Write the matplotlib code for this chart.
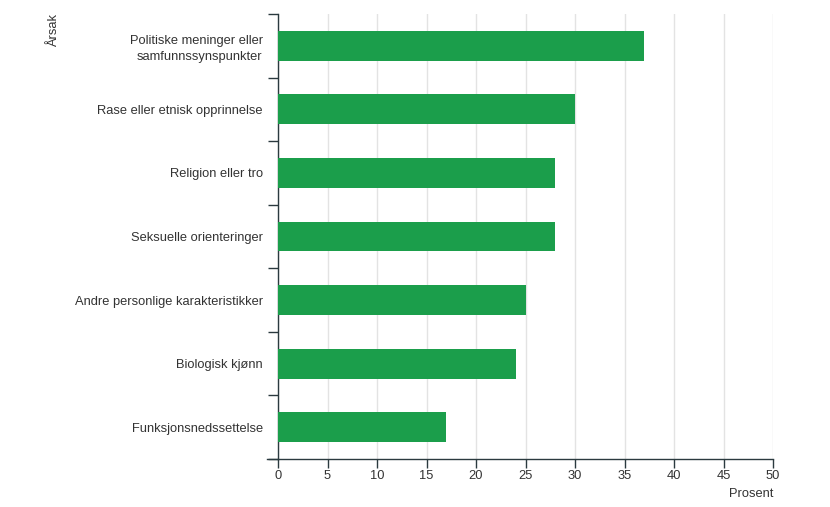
import matplotlib
matplotlib.use("Agg")
import matplotlib.pyplot as plt
from matplotlib.lines import Line2D

categories = [
    "Politiske meninger eller\nsamfunnssynspunkter",
    "Rase eller etnisk opprinnelse",
    "Religion eller tro",
    "Seksuelle orienteringer",
    "Andre personlige karakteristikker",
    "Biologisk kjønn",
    "Funksjonsnedssettelse",
]
values = [37, 30, 28, 28, 25, 24, 17]
x_ticks = [0, 5, 10, 15, 20, 25, 30, 35, 40, 45, 50]

plt.rcParams['font.family'] = ['Liberation Sans', 'DejaVu Sans']

W, H = 830, 507
fig = plt.figure(figsize=(W / 100, H / 100), dpi=100)
left, right, top, bottom = 278, 773, 14, 459
ax = fig.add_axes([left / W, (H - bottom) / H, (right - left) / W, (bottom - top) / H])

axis_col = '#2b3a3f'
text_col = '#333333'
bar_col = '#1b9e4b'
fs = 9.3

pos = list(range(len(categories)))
ax.barh(pos, values, height=0.47, color=bar_col, zorder=3)

ax.set_xlim(0, 50)
ax.set_ylim(len(categories) - 0.5, -0.5)

ax.set_xticks(x_ticks)
ax.set_xticklabels([str(t) for t in x_ticks])
ax.set_yticks(pos)
ax.set_yticklabels(categories, ha='right', multialignment='right', linespacing=1.45)
ax.set_yticks([p - 0.5 for p in pos] + [len(categories) - 0.5], minor=True)

ax.tick_params(axis='y', which='major', length=0, pad=11, labelsize=fs, labelcolor=text_col)
ax.tick_params(axis='y', which='minor', length=7.2, width=1, color=axis_col)
ax.tick_params(axis='x', which='major', length=6.5, width=1, color=axis_col,
               pad=1.5, labelsize=fs, labelcolor=text_col)

ax.grid(axis='x', color='#e3e3e3', linewidth=1, zorder=0)
ax.set_axisbelow(True)

for s in ['top', 'right']:
    ax.spines[s].set_visible(False)
ax.spines['left'].set_color(axis_col)
ax.spines['bottom'].set_color(axis_col)
ax.spines['left'].set_linewidth(1)
ax.spines['bottom'].set_linewidth(1)

# extension of the x axis line to the left
fig.add_artist(Line2D([267 / W, left / W], [(H - bottom) / H] * 2,
                      color=axis_col, linewidth=1))

fig.text(54 / W, 1 - 14 / H, "Årsak", rotation=90, ha='center', va='top',
         fontsize=fs, color=text_col)
fig.text(right / W, 1 - 494 / H, "Prosent", ha='right', va='center',
         fontsize=fs, color=text_col)

fig.savefig("out.png", dpi=100, facecolor='white')
